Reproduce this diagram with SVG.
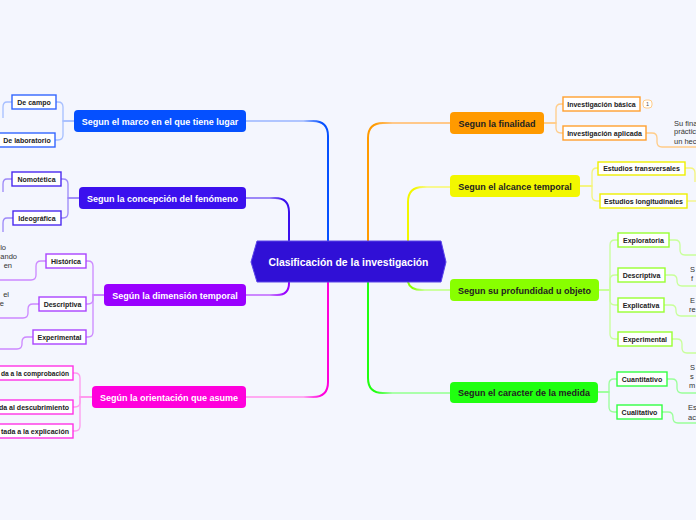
<svg xmlns="http://www.w3.org/2000/svg" width="696" height="520" viewBox="0 0 696 520">
<style>
.mt{font-family:"Liberation Sans",Arial,sans-serif;font-weight:bold;font-size:9px;text-anchor:middle}
.lt{fill:#fff}
.dt{fill:#222}
.sb rect{fill:#fff;stroke-width:1.4}
.sb text{font-family:"Liberation Sans",Arial,sans-serif;font-weight:bold;font-size:7px;fill:#222;text-anchor:middle}
.note{font-family:"Liberation Sans",Arial,sans-serif;font-size:7.5px;fill:#333}
.c{fill:none;stroke-width:2;stroke-linecap:round}
.b{fill:none;stroke-width:1.3}
</style>
<defs>
<linearGradient id="gBlue" gradientUnits="userSpaceOnUse" x1="246" y1="0" x2="328" y2="0"><stop offset="0.7" stop-color="#b0c5ff"/><stop offset="0.92" stop-color="#0550ff"/></linearGradient>
<linearGradient id="gIndigo" gradientUnits="userSpaceOnUse" x1="246" y1="0" x2="289" y2="0"><stop offset="0.55" stop-color="#9c88f8"/><stop offset="0.85" stop-color="#3b10ee"/></linearGradient>
<linearGradient id="gPurple" gradientUnits="userSpaceOnUse" x1="246" y1="0" x2="289" y2="0"><stop offset="0.55" stop-color="#cc88ff"/><stop offset="0.9" stop-color="#9900ff"/></linearGradient>
<linearGradient id="gMag" gradientUnits="userSpaceOnUse" x1="246" y1="0" x2="328" y2="0"><stop offset="0.7" stop-color="#ffaaf2"/><stop offset="0.92" stop-color="#ff00dc"/></linearGradient>
<linearGradient id="gOrange" gradientUnits="userSpaceOnUse" x1="368" y1="0" x2="450" y2="0"><stop offset="0.08" stop-color="#ff9a00"/><stop offset="0.3" stop-color="#ffc88a"/></linearGradient>
<linearGradient id="gYellow" gradientUnits="userSpaceOnUse" x1="408" y1="0" x2="450" y2="0"><stop offset="0.15" stop-color="#f2f700"/><stop offset="0.45" stop-color="#f8f890"/></linearGradient>
<linearGradient id="gLime" gradientUnits="userSpaceOnUse" x1="408" y1="0" x2="450" y2="0"><stop offset="0.1" stop-color="#88ff00"/><stop offset="0.4" stop-color="#ccffa0"/></linearGradient>
<linearGradient id="gGreen" gradientUnits="userSpaceOnUse" x1="368" y1="0" x2="450" y2="0"><stop offset="0.1" stop-color="#20ff10"/><stop offset="0.3" stop-color="#aaffaa"/></linearGradient>
</defs>
<rect width="696" height="520" fill="#f4f6fe"/>

<g id="connectors">
<path class="c" stroke="url(#gBlue)" d="M328,241 V136 Q328,121 313,121 H246"/>
<path class="c" stroke="url(#gIndigo)" d="M289,241 V212 Q289,198 275,198 H246"/>
<path class="c" stroke="url(#gPurple)" d="M289,282 V283 Q289,295 277,295 H246"/>
<path class="c" stroke="url(#gMag)" d="M328,282 V382 Q328,397 313,397 H246"/>
<path class="c" stroke="url(#gOrange)" d="M368,241 V138 Q368,123 383,123 H450"/>
<path class="c" stroke="url(#gYellow)" d="M408,241 V202 Q408,187 423,187 H450"/>
<path class="c" stroke="url(#gLime)" d="M408,282 Q410,290 422,290 H450"/>
<path class="c" stroke="url(#gGreen)" d="M368,282 V378 Q368,393 383,393 H450"/>

<g stroke="#a6bfff" class="b">
<path d="M74,121 H63 V107 Q63,102 58,102 H56"/>
<path d="M74,121 H63 V135 Q63,140 58,140 H55"/>
<path d="M12,102 H7 Q3,102 3,107 V118"/>
</g>
<g stroke="#9c88f8" class="b">
<path d="M79,198 H68 V184 Q68,179 63,179 H61"/>
<path d="M79,198 H68 V213 Q68,218 63,218 H61"/>
<path d="M12,179 H7 Q3,179 3,184 V192"/>
<path d="M13,218 H7 Q3,218 3,223 V232"/>
</g>
<g stroke="#cc88ff" class="b">
<path d="M104,295 H93 V266 Q93,261 88,261 H86"/>
<path d="M104,295 H93 V299 Q93,304 88,304 H86"/>
<path d="M104,295 H93 V332 Q93,337 88,337 H86"/>
<path d="M46,261 H41 Q36,261 36,266 V275 Q36,280 31,280 H-2"/>
<path d="M39,304 H33 Q28,304 28,309 V313 Q28,318 23,318 H-2"/>
<path d="M33,337 H27 Q22,337 22,342 V344 Q22,349 17,349 H-2"/>
</g>
<g stroke="#ff99ee" class="b">
<path d="M92,397 H80 V378 Q80,373 75,373 H73"/>
<path d="M92,397 H80 V402 Q80,407 75,407 H73"/>
<path d="M92,397 H80 V426 Q80,431 75,431 H73"/>
</g>
<g stroke="#ffcc88" class="b">
<path d="M544,123 H556 V109 Q556,104 561,104 H563"/>
<path d="M544,123 H556 V128 Q556,133 561,133 H563"/>
<path d="M646,133 H652 Q657,133 657,138 V142 Q657,147 662,147 H698"/>
</g>
<g stroke="#f4f47a" class="b">
<path d="M580,186 H592 V173 Q592,168 597,168 H598"/>
<path d="M580,186 H592 V196 Q592,201 597,201 H600"/>
<path d="M685,168 H690 Q695,168 695,173 V182"/>
<path d="M687,201 H698"/>
</g>
<g stroke="#c8ff99" class="b">
<path d="M599,290 H610 V245 Q610,240 615,240 H618"/>
<path d="M599,290 H610 V280 Q610,275 615,275 H618"/>
<path d="M599,290 H610 V300 Q610,305 615,305 H618"/>
<path d="M599,290 H610 V334 Q610,339 615,339 H618"/>
<path d="M669,240 H675 Q680,240 680,245 V250 Q680,255 685,255 H698"/>
<path d="M665,275 H672 Q677,275 677,280 V281 Q677,286 682,286 H698"/>
<path d="M664,305 H671 Q676,305 676,310 V311 Q676,316 681,316 H698"/>
<path d="M672,339 H677 Q682,339 682,344 V348 Q682,353 687,353 H698"/>
</g>
<g stroke="#99ff99" class="b">
<path d="M598,392 H609 V384 Q609,379 614,379 H617"/>
<path d="M598,392 H609 V407 Q609,412 614,412 H617"/>
<path d="M667,379 H672 Q677,379 677,384 V388 Q677,393 682,393 H698"/>
<path d="M662,412 H668 Q673,412 673,417 V418 Q673,423 678,423 H698"/>
</g>
</g>

<g id="center">
<polygon points="251,262 257,241 441,241 446,262 441,282 257,282" fill="#3010d6" stroke="#5a44e8" stroke-width="1"/>
<text x="348.5" y="265.5" class="mt lt" style="font-size:10.4px">Clasificación de la investigación</text>
</g>

<g id="n-marco"><rect x="74" y="110" width="172" height="22" rx="4" fill="#0550ff"/><text x="160" y="124.5" class="mt lt">Segun el marco en el que tiene lugar</text></g>
<g id="n-concepcion"><rect x="79" y="187" width="167" height="22" rx="4" fill="#3b10ee"/><text x="162.5" y="201.5" class="mt lt">Segun la concepción del fenómeno</text></g>
<g id="n-dimension"><rect x="104" y="284" width="142" height="22" rx="4" fill="#9900ff"/><text x="175" y="298.5" class="mt lt">Según la dimensión temporal</text></g>
<g id="n-orientacion"><rect x="92" y="386" width="154" height="22" rx="4" fill="#ff00dc"/><text x="169" y="400.5" class="mt lt">Según la orientación que asume</text></g>
<g id="n-finalidad"><rect x="450" y="112" width="94" height="22" rx="4" fill="#ff9a00"/><text x="497" y="126.5" class="mt dt">Segun la finalidad</text></g>
<g id="n-alcance"><rect x="450" y="175" width="130" height="22" rx="4" fill="#f2f700"/><text x="515" y="189.5" class="mt dt">Segun el alcance temporal</text></g>
<g id="n-profundidad"><rect x="450" y="279" width="149" height="22" rx="4" fill="#88ff00"/><text x="524.5" y="293.5" class="mt dt">Segun su profundidad u objeto</text></g>
<g id="n-medida"><rect x="450" y="382" width="148" height="21" rx="4" fill="#20ff10"/><text x="524" y="396" class="mt dt">Segun el caracter de la medida</text></g>

<g id="s-campo" class="sb"><rect x="12" y="95" width="44" height="14" stroke="#3366ff"/><text x="34" y="104.5">De campo</text></g>
<g id="s-laboratorio" class="sb"><rect x="-2" y="133" width="57" height="14" stroke="#3366ff"/><text x="27" y="142.5">De laboratorio</text></g>
<g id="s-nomotetica" class="sb"><rect x="12" y="172" width="49" height="14" stroke="#4a2af0"/><text x="36.5" y="181.5">Nomotética</text></g>
<g id="s-ideografica" class="sb"><rect x="13" y="211" width="48" height="14" stroke="#4a2af0"/><text x="37" y="220.5">Ideográfica</text></g>
<g id="s-historica" class="sb"><rect x="46" y="254" width="40" height="14" stroke="#aa44ff"/><text x="66" y="263.5">Histórica</text></g>
<g id="s-descriptiva-t" class="sb"><rect x="39" y="297" width="47" height="14" stroke="#aa44ff"/><text x="62.5" y="306.5">Descriptiva</text></g>
<g id="s-experimental-t" class="sb"><rect x="33" y="330" width="53" height="14" stroke="#aa44ff"/><text x="59.5" y="339.5">Experimental</text></g>
<g id="s-comprobacion" class="sb"><rect x="-80" y="366" width="153" height="14" stroke="#ff33e6"/><text x="1" y="375.5" textLength="68" lengthAdjust="spacingAndGlyphs" style="text-anchor:start">da a la comprobación</text></g>
<g id="s-descubrimiento" class="sb"><rect x="-80" y="400" width="153" height="14" stroke="#ff33e6"/><text x="69" y="409.5" style="text-anchor:end">da al descubrimiento</text></g>
<g id="s-explicacion" class="sb"><rect x="-80" y="424" width="153" height="14" stroke="#ff33e6"/><text x="69" y="433.5" style="text-anchor:end">tada a la explicación</text></g>

<g id="s-basica" class="sb"><rect x="563" y="97" width="77" height="14" stroke="#ffa030"/><text x="601.5" y="106.5">Investigación básica</text></g>
<g id="badge-1"><rect x="643" y="100" width="9" height="8" rx="3" fill="#fff" stroke="#ffcc88" stroke-width="1"/><text x="647.5" y="106" style="font-family:'Liberation Sans',Arial,sans-serif;font-size:5.5px;fill:#555;text-anchor:middle">1</text></g>
<g id="s-aplicada" class="sb"><rect x="563" y="126" width="83" height="14" stroke="#ffa030"/><text x="604.5" y="135.5">Investigación aplicada</text></g>
<g id="s-transversales" class="sb"><rect x="598" y="162" width="87" height="13" stroke="#eef000"/><text x="641.5" y="171">Estudios transversales</text></g>
<g id="s-longitudinales" class="sb"><rect x="600" y="194" width="87" height="14" stroke="#eef000"/><text x="643.5" y="203.5">Estudios longitudinales</text></g>
<g id="s-exploratoria" class="sb"><rect x="618" y="233" width="51" height="14" stroke="#99ff33"/><text x="643.5" y="242.5">Exploratoria</text></g>
<g id="s-descriptiva-p" class="sb"><rect x="618" y="268" width="47" height="14" stroke="#99ff33"/><text x="641.5" y="277.5">Descriptiva</text></g>
<g id="s-explicativa" class="sb"><rect x="618" y="298" width="46" height="14" stroke="#99ff33"/><text x="641" y="307.5">Explicativa</text></g>
<g id="s-experimental-p" class="sb"><rect x="618" y="332" width="54" height="14" stroke="#99ff33"/><text x="645" y="341.5">Experimental</text></g>
<g id="s-cuantitativo" class="sb"><rect x="617" y="372" width="50" height="14" stroke="#33ff44"/><text x="642" y="381.5">Cuantitativo</text></g>
<g id="s-cualitativo" class="sb"><rect x="617" y="405" width="45" height="14" stroke="#33ff44"/><text x="639.5" y="414.5">Cualitativo</text></g>

<g id="notes">
<text class="note" x="6" y="249.5" text-anchor="end">lo</text>
<text class="note" x="17" y="258.5" text-anchor="end">ando</text>
<text class="note" x="12" y="267.5" text-anchor="end">en</text>
<text class="note" x="9" y="296.5" text-anchor="end">el</text>
<text class="note" x="4" y="305.5" text-anchor="end">e</text>
<text class="note" x="674" y="126">Su fina</text>
<text class="note" x="674" y="134">práctic</text>
<text class="note" x="674" y="144">un hec</text>
<text class="note" x="690" y="272">S</text>
<text class="note" x="691" y="281">f</text>
<text class="note" x="690" y="302.5">E</text>
<text class="note" x="689" y="312">re</text>
<text class="note" x="690" y="370">S</text>
<text class="note" x="690" y="379">s</text>
<text class="note" x="689" y="388">m</text>
<text class="note" x="688" y="410">Es</text>
<text class="note" x="688" y="420">ac</text>
</g>
</svg>
